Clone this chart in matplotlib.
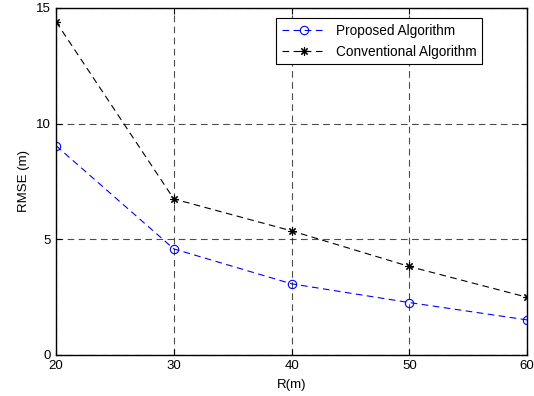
import matplotlib
matplotlib.use("Agg")
import matplotlib.pyplot as plt

plt.rcParams["font.family"] = ["Liberation Sans", "DejaVu Sans"]
plt.rcParams["font.size"] = 9

r_values = [20, 30, 40, 50, 60]
proposed = [9.04, 4.58, 3.07, 2.26, 1.51]
conventional = [14.4, 6.74, 5.36, 3.82, 2.49]

fig = plt.figure(figsize=(5.34, 3.96), dpi=100)
ax = fig.add_axes([0.105, 0.104, 0.882, 0.876])

ax.plot(r_values, proposed, color="blue", linestyle=(0, (6, 4)), linewidth=0.8,
        marker="o", markersize=6, markerfacecolor="none", markeredgewidth=0.8,
        label="Proposed Algorithm")
ax.plot(r_values, conventional, color="black", linestyle=(0, (6, 4)), linewidth=0.8,
        marker=(8, 2, 0), markersize=6, markeredgewidth=0.8,
        label="Conventional Algorithm")

ax.set_xlim(20, 60)
ax.set_ylim(0, 15)
ax.set_xticks([20, 30, 40, 50, 60])
ax.set_yticks([0, 5, 10, 15])
ax.grid(True, color="black", linestyle=(0, (6, 4)), linewidth=0.8, alpha=0.7)
ax.tick_params(direction="in", length=4, width=0.8, top=True, right=True,
               labelsize=9.5, pad=4)
for s in ax.spines.values():
    s.set_linewidth(1.0)

ax.set_xlabel("R(m)", fontsize=9.5, labelpad=5)
ax.set_ylabel("RMSE (m)", fontsize=9.5, labelpad=4)

leg = ax.legend(loc="upper right", bbox_to_anchor=(0.905, 0.97), fancybox=False,
                edgecolor="black", framealpha=1, fontsize=9.8, handlelength=3.2,
                borderaxespad=0.0, borderpad=0.4, labelspacing=0.5)
leg.get_frame().set_linewidth(0.8)

fig.savefig("out.png", dpi=100)
